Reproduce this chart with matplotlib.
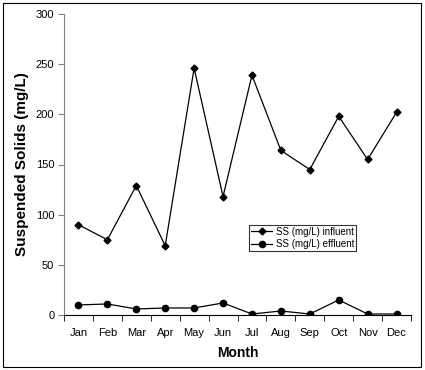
import matplotlib
matplotlib.use("Agg")
import matplotlib.pyplot as plt
from matplotlib.patches import Rectangle

plt.rcParams['font.family'] = ['Liberation Sans', 'DejaVu Sans']

# data
months = ["Jan", "Feb", "Mar", "Apr", "May", "Jun",
          "Jul", "Aug", "Sep", "Oct", "Nov", "Dec"]
influent = [90, 75, 129, 69, 246, 118, 239, 164, 145, 198, 155, 202]
effluent = [10, 11, 6, 7, 7, 12, 1, 4, 1, 15, 1, 1]

fig = plt.figure(figsize=(4.25, 3.7), dpi=100)
ax = fig.add_axes([64 / 425, 55 / 370, 347 / 425, 301 / 370])

x = list(range(len(months)))
ax.plot(x, influent, color="black", lw=0.9, marker="D", ms=3.5,
        label="SS (mg/L) influent")
ax.plot(x, effluent, color="black", lw=0.9, marker="o", ms=4.5,
        label="SS (mg/L) effluent")

ax.set_xlim(-0.5, 11.5)
ax.set_ylim(0, 300)
ax.set_yticks([0, 50, 100, 150, 200, 250, 300])
ax.set_xticks(x)
ax.set_xticklabels(months)
ax.set_xticks([i - 0.5 for i in range(13)], minor=True)
ax.tick_params(axis="x", which="major", length=0, pad=9, labelsize=8)
ax.tick_params(axis="x", which="minor", length=4, direction="out")
ax.tick_params(axis="y", length=4, direction="out", labelsize=8, pad=3,
               color="#808080")

for s in ["top", "right"]:
    ax.spines[s].set_visible(False)
ax.spines["left"].set_color("#808080")
ax.spines["bottom"].set_color("black")

ax.set_ylabel("Suspended Solids (mg/L)", fontsize=11, fontweight="bold",
              labelpad=5)
ax.set_xlabel("Month", fontsize=10, fontweight="bold", labelpad=6)

leg = ax.legend(loc="lower left", bbox_to_anchor=(0.533, 0.213),
                fontsize=7, frameon=True, fancybox=False,
                handlelength=2.2, handletextpad=0.4, borderpad=0.2,
                labelspacing=0.25, borderaxespad=0)
leg.get_frame().set_edgecolor("black")
leg.get_frame().set_linewidth(0.8)

fig.patches.append(Rectangle((3 / 425, 3 / 370), 418 / 425, 364 / 370,
                             transform=fig.transFigure, fill=False,
                             edgecolor="black", lw=0.8))

fig.savefig("out.png", dpi=100)
